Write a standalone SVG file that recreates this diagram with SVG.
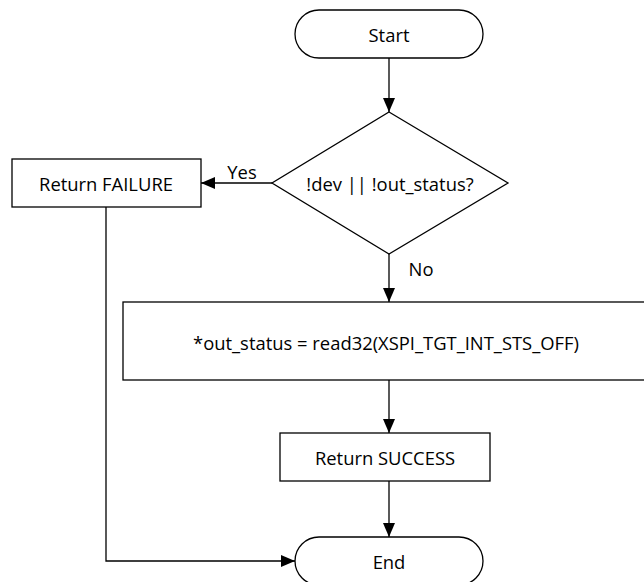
<svg xmlns="http://www.w3.org/2000/svg" width="644" height="582" viewBox="0 0 644 582">
  <style>
    .shape { fill: #ffffff; stroke: #000000; stroke-width: 1.3; }
    .edge { fill: none; stroke: #000000; stroke-width: 1.3; }
    .label { font-family: "Open Sans", "Liberation Sans", sans-serif; font-size: 18.4px; fill: #000000; text-anchor: middle; dominant-baseline: central; }
  </style>
  <defs>
    <marker id="arrow" viewBox="0 0 14 12" refX="14" refY="6" markerWidth="14" markerHeight="12" markerUnits="userSpaceOnUse" orient="auto">
      <path d="M0,0 L14,6 L0,12 Z" fill="#000000"/>
    </marker>
  </defs>
  <rect width="644" height="582" fill="#ffffff"/>

  <g id="connectors">
    <line class="edge" x1="389" y1="58" x2="389" y2="112" marker-end="url(#arrow)"/>
    <line class="edge" x1="272" y1="183" x2="201" y2="183" marker-end="url(#arrow)"/>
    <line class="edge" x1="389" y1="254" x2="389" y2="302" marker-end="url(#arrow)"/>
    <line class="edge" x1="389" y1="380" x2="389" y2="433" marker-end="url(#arrow)"/>
    <line class="edge" x1="389" y1="481" x2="389" y2="537" marker-end="url(#arrow)"/>
    <polyline class="edge" points="106,207 106,561 295,561" marker-end="url(#arrow)"/>
    <text class="label" x="242" y="171">Yes</text>
    <text class="label" x="421" y="268">No</text>
  </g>

  <g id="start">
    <rect class="shape" x="295" y="10" width="188" height="48" rx="24" ry="24"/>
    <text class="label" x="389" y="34">Start</text>
  </g>

  <g id="check">
    <polygon class="shape" points="389,112 508,183 389,254 272,183"/>
    <text class="label" x="390" y="183">!dev || !out_status?</text>
  </g>

  <g id="failure">
    <rect class="shape" x="12" y="159" width="189" height="48"/>
    <text class="label" x="106" y="183">Return FAILURE</text>
  </g>

  <g id="read">
    <rect class="shape" x="123" y="302" width="532" height="78"/>
    <text class="label" x="386" y="342">*out_status = read32(XSPI_TGT_INT_STS_OFF)</text>
  </g>

  <g id="success">
    <rect class="shape" x="280" y="433" width="210" height="48"/>
    <text class="label" x="385" y="457">Return SUCCESS</text>
  </g>

  <g id="end">
    <rect class="shape" x="295" y="537" width="188" height="48" rx="24" ry="24"/>
    <text class="label" x="389" y="561">End</text>
  </g>
</svg>
